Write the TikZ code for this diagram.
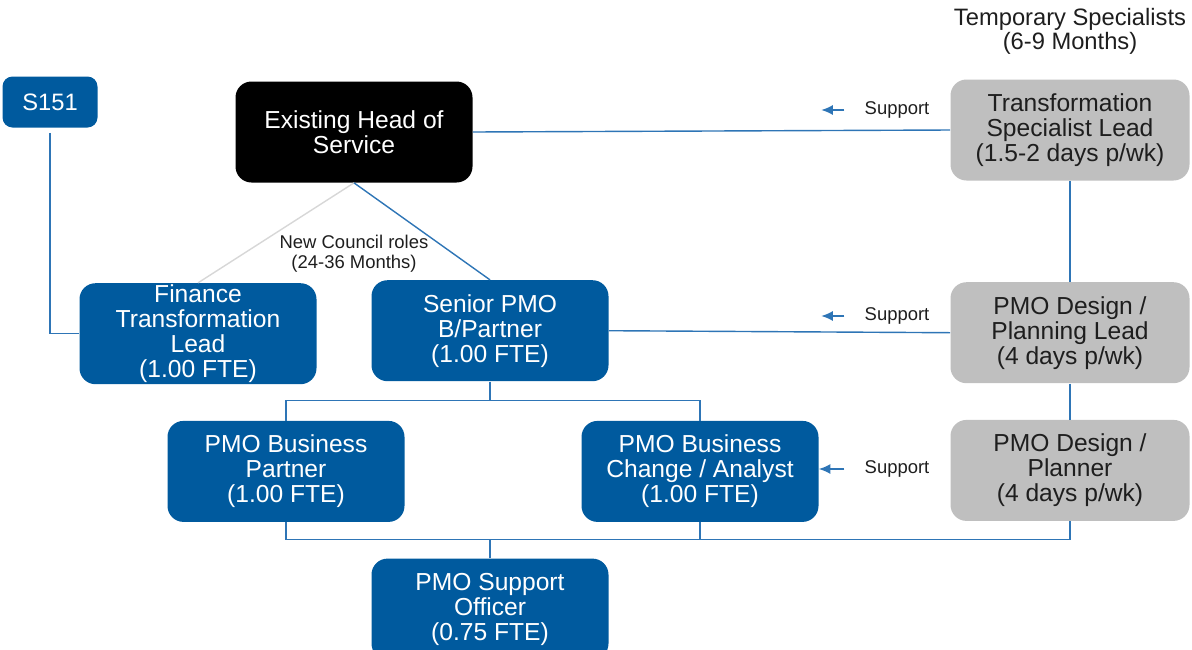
\documentclass[tikz,border=0pt]{standalone}
\usepackage{fontspec}
\setmainfont{Liberation Sans}
\usepackage{tikz}
\usetikzlibrary{arrows.meta,positioning,calc}
\definecolor{orgblue}{RGB}{0,90,158}
\definecolor{orggray}{RGB}{191,191,191}
\definecolor{linkblue}{RGB}{46,117,182}
\definecolor{linkgray}{RGB}{215,215,215}
\definecolor{darktext}{RGB}{30,30,30}

\begin{document}
\begin{tikzpicture}[
        box/.style={rounded corners=3.2mm,minimum width=47.4mm,minimum height=20.2mm,inner sep=0pt,align=center,font=\fontsize{14}{14.2}\selectfont},
        role/.style={box,fill=orgblue,text=white},
        head/.style={box,fill=black,text=white},
        temp/.style={box,fill=orggray,text=darktext,minimum width=47.8mm},
        tag/.style={rounded corners=2mm,fill=orgblue,text=white,minimum width=19mm,minimum height=10.2mm,inner sep=0pt,font=\fontsize{13.5}{14}\selectfont},
        note/.style={inner sep=0pt,align=center,text=darktext,font=\fontsize{10.5}{11.3}\selectfont},
        link/.style={draw=linkblue,line width=0.8pt},
        arr/.style={-{Latex[length=2.3mm,width=2mm]},draw=linkblue,line width=0.8pt}
      ]
      \clip (0,0) rectangle (23.84,-12.98);

      \node[head] (hos) at (7.08,-2.64) {Existing Head of\\Service};
      \node[tag] (s151) at (1.00,-2.04) {S151};

      \node[role,below=20mm of hos,xshift=-31.2mm] (fin)
      {Finance\\Transformation\\Lead\\(1.00 FTE)};
      \node[role,below=19.4mm of hos,xshift=27.2mm] (snr)
      {Senior PMO\\B/Partner\\(1.00 FTE)};
      \node[note,below=10.4mm of hos] (newroles)
      {New Council roles\\(24-36 Months)};

      \node[role,below=7.8mm of snr,xshift=-40.8mm] (pbp)
      {PMO Business\\Partner\\(1.00 FTE)};
      \node[role,below=7.8mm of snr,xshift=42mm] (pbc)
      {PMO Business\\Change / Analyst\\(1.00 FTE)};
      \node[role,below=7.2mm of pbp,xshift=40.8mm] (pso)
      {PMO Support\\Officer\\(0.75 FTE)};

      \node[temp] (tsl) at (21.40,-2.60)
      {Transformation\\Specialist Lead\\(1.5-2 days p/wk)};
      \node[temp,below=20.2mm of tsl] (pdl)
      {PMO Design /\\Planning Lead\\(4 days p/wk)};
      \node[temp,below=7.2mm of pdl] (pdp)
      {PMO Design /\\Planner\\(4 days p/wk)};
      \node[note,font=\fontsize{13.5}{13.6}\selectfont] (tempspec) at (21.40,-0.62)
      {Temporary Specialists\\(6-9 Months)};

      \node[note] (supA) at (17.94,-2.20) {Support};
      \node[note] (supB) at (17.94,-6.32) {Support};
      \node[note] (supC) at (17.94,-9.38) {Support};
      \coordinate[left=8.6mm of supA.west] (tipA);
      \coordinate[left=8.6mm of supB.west] (tipB);

      % reporting lines
      \draw[link,shorten <=1mm] (s151) |- (fin);
      \draw[draw=linkgray,line width=0.8pt] (hos.south) -- (fin.north);
      \draw[link] (hos.south) -- (snr.north);
      \draw[link] (hos.east) -- (tsl.west);
      \draw[link] (snr.east) -- (pdl.west);
      \draw[link] (tsl) -- (pdl);
      \draw[link] (pdl) -- (pdp);

      \coordinate[below=3.8mm of snr.south] (topbus);
      \draw[link] (snr.south) -- (topbus);
      \draw[link] (pbp.north) |- (topbus) -| (pbc.north);

      \coordinate[above=3.8mm of pso.north] (lowbus);
      \draw[link] (pbp.south) |- (lowbus) -| (pdp.south);
      \draw[link] (pbc.south) -- (pbc.south |- lowbus);
      \draw[link] (pso.north) -- (lowbus);

      % support arrows
      \draw[arr,shorten <=4mm] (supA.west) -- (tipA);
      \draw[arr,shorten <=4mm] (supB.west) -- (tipB);
      \draw[arr,shorten <=4mm] (supC.west) -- (supC.west -| pbc.east);
    \end{tikzpicture}
\end{document}
